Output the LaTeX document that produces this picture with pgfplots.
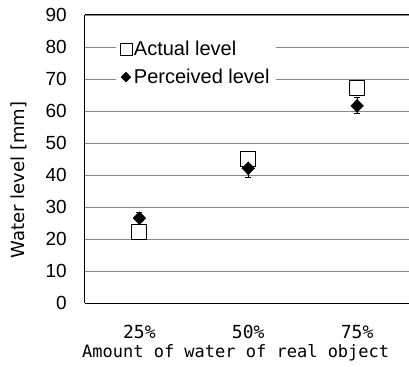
\documentclass[border=0pt]{standalone}
\usepackage{pgfplots}
\pgfplotsset{compat=1.18}
\usepackage{fontspec}
\setmainfont{Liberation Sans}
\newfontfamily\gothic{DejaVu Sans Mono}
\newfontfamily\pgothic{DejaVu Sans}
\begin{document}
\begin{tikzpicture}
\begin{axis}[
  scale only axis, width=324bp, height=288bp,
  xmin=-0.5, xmax=2.477, ymin=0, ymax=90,
  xtick={0,1,2}, xticklabels={25\%,50\%,75\%},
  ytick={0,10,...,90},
  axis x line*=bottom, axis y line*=left,
  axis line style={black, line width=1bp},
  ymajorgrids, grid style={black!47, line width=0.9bp},
  major tick length=0pt,
  /pgf/number format/assume math mode=true,
  yticklabel style={font=\fontsize{19bp}{21bp}\selectfont, anchor=east, inner sep=0pt, xshift=-18bp},
  xticklabel style={font=\gothic\fontsize{18bp}{20bp}\selectfont, anchor=center, yshift=-29bp},
  every axis x label/.style={at={(rel axis cs:0.465,0)}, yshift=-50bp, anchor=center, font=\gothic\fontsize{17bp}{19bp}\selectfont},
  every axis y label/.style={at={(rel axis cs:0,0.427)}, xshift=-66bp, anchor=center, rotate=90, font=\pgothic\fontsize{18bp}{20bp}\selectfont},
  xlabel={Amount of water of real object},
  ylabel={Water level [mm]},
  legend style={draw=none, fill=white, at={(rel axis cs:0.095,0.927)}, anchor=north west,
    font=\fontsize{20bp}{22bp}\selectfont, row sep=8bp, inner xsep=4bp, inner ysep=3bp,
    nodes={inner xsep=2bp}},
  legend cell align=left,
  legend image code/.code={\draw[#1] plot coordinates {(6bp,0bp)};},
]
\addplot[only marks, mark=square*, mark size=7.5bp, mark options={fill=white, draw=black, line width=0.9bp},
  legend image post style={mark size=6bp}]
  coordinates {(0,22.2) (1,45.0) (2,67.2)};
\addlegendentry{Actual level\hspace{6bp}}
\addplot[only marks, mark=diamond*, mark size=6.5bp, mark options={fill=black, draw=black, xscale=1.3},
  error bars/.cd, y dir=both, y explicit,
  error bar style={black, line width=0.9bp},
  error mark options={rotate=90, mark size=3bp, black, line width=0.9bp},
  /pgfplots/legend image post style={mark size=5bp}]
  coordinates {(0,26.5) +- (0,1.9) (1,42.1) +- (0,2.9) (2,61.6) +- (0,2.5)};
\addlegendentry{Perceived level}
\draw[black, line width=1bp] (rel axis cs:0,1) -- (rel axis cs:1,1);
\end{axis}
\pgfresetboundingbox
\path (-85bp,-64bp) rectangle (324bp,303bp);
\end{tikzpicture}
\end{document}
